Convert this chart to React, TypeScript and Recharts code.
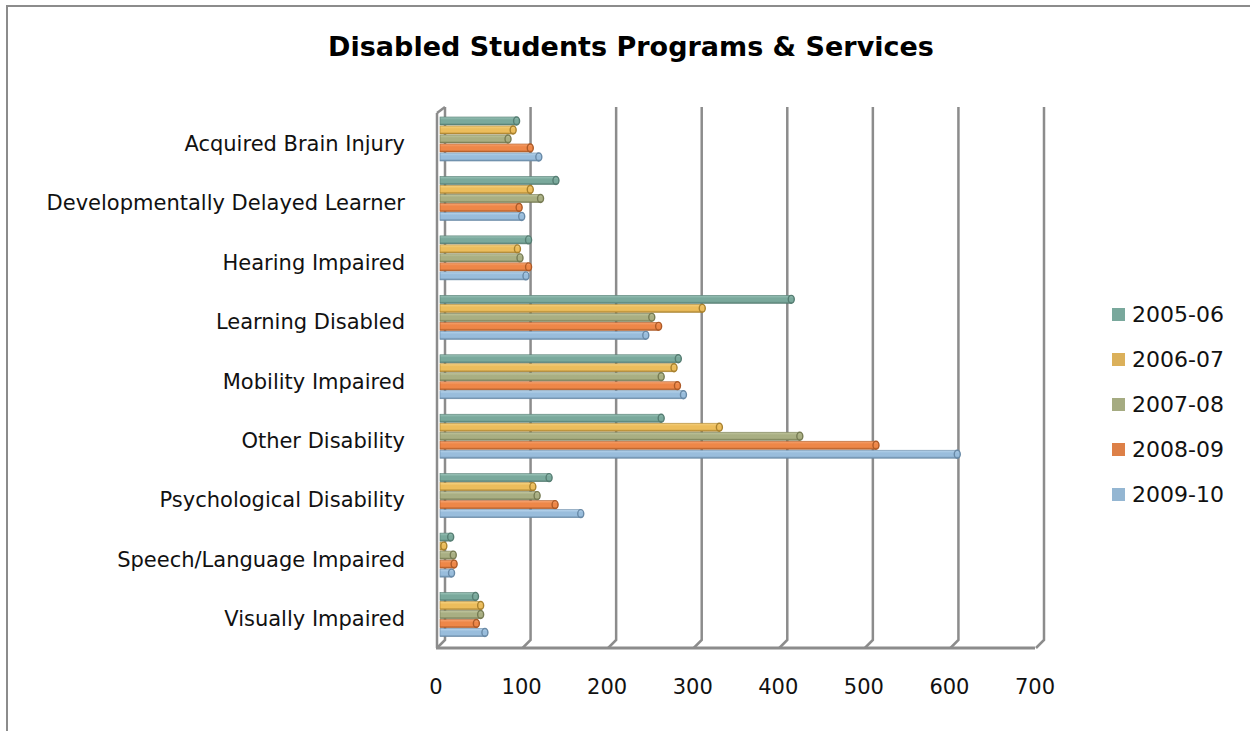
import React from 'react';
import { BarChart, Bar, XAxis, YAxis, CartesianGrid } from 'recharts';

const CATEGORIES = [
  'Acquired Brain Injury',
  'Developmentally Delayed Learner',
  'Hearing Impaired',
  'Learning Disabled',
  'Mobility Impaired',
  'Other Disability',
  'Psychological Disability',
  'Speech/Language Impaired',
  'Visually Impaired',
];

const Y2005_06 = [93, 139, 107, 414, 282, 262, 131, 16, 45];
const Y2006_07 = [89, 109, 94, 310, 277, 330, 112, 8, 51];
const Y2007_08 = [83, 121, 97, 251, 262, 424, 117, 19, 51];
const Y2008_09 = [109, 96, 107, 259, 281, 513, 138, 20, 46];
const Y2009_10 = [119, 99, 104, 244, 288, 608, 168, 17, 56];

const SERIES_NAMES = ['2005-06', '2006-07', '2007-08', '2008-09', '2009-10'];
const SERIES_VALUES = [Y2005_06, Y2006_07, Y2007_08, Y2008_09, Y2009_10];

const X_TICKS = [0, 100, 200, 300, 400, 500, 600, 700];

const BASE = ['#7aa99c', '#ecbd5c', '#a9af83', '#ee8748', '#99bddc'];
const LIGHT = ['#9cc4b9', '#f5d283', '#c2c7a1', '#f6a471', '#b9d5ec'];
const DARK = ['#557d72', '#a8812e', '#767b53', '#ad5a27', '#6889a6'];
const LEGEND = ['#79a89c', '#dbb05a', '#a5ab81', '#dd8047', '#94b6d2'];

const FONT = "'DejaVu Sans', sans-serif";
const GRID = '#8c8c8c';

const data = CATEGORIES.map((name, i) => {
  const row: { [key: string]: any } = { name };
  SERIES_NAMES.forEach((s, k) => {
    row[s] = SERIES_VALUES[k][i];
  });
  return row;
});

const makeShape = (k: number) => (props: any) => {
  const { x, y, width, height } = props;
  if (!width || width <= 0) return <g />;
  const cap = Math.min(3, width / 2);
  return (
    <g>
      <rect
        x={x}
        y={y}
        width={width - cap}
        height={height}
        fill={`url(#bar${k})`}
        stroke={DARK[k]}
        strokeWidth={0.6}
      />
      <ellipse
        cx={x + width - cap}
        cy={y + height / 2}
        rx={cap}
        ry={height / 2}
        fill={`url(#bar${k})`}
        stroke={DARK[k]}
        strokeWidth={1.4}
      />
    </g>
  );
};

// back-plane grid line with a short diagonal down to the floor
const gridLine = (props: any) => {
  const { x1, y1, y2, index } = props;
  const bx = x1 + 5;
  const top = y1 - 3;
  const bottom = y2 - 5;
  return (
    <g key={`g-${index}`}>
      <path
        d={`M${bx},${top} L${bx},${bottom} L${x1 - 3},${y2 + 3}`}
        fill="none"
        stroke={GRID}
        strokeWidth={2.5}
      />
      {index === 0 && (
        <path d={`M${x1 - 3},${y1 + 3} L${bx},${top}`} fill="none" stroke={GRID} strokeWidth={2.5} />
      )}
    </g>
  );
};

const CategoryTick = (props: any) => {
  const { x, y, payload } = props;
  return (
    <text x={x} y={y + 5} textAnchor="end" dominantBaseline="middle" fontFamily={FONT} fontSize={21} fill="#111">
      {payload.value}
    </text>
  );
};

export default function App() {
  return (
    <div style={{ position: 'fixed', left: 0, top: 0, width: 1250, height: 731, overflow: 'hidden', background: '#fff' }}>
      <div
        style={{
          position: 'absolute',
          left: 6,
          top: 5,
          width: 1300,
          height: 800,
          border: `2px solid ${GRID}`,
          boxSizing: 'border-box',
        }}
      />
      <div
        style={{
          position: 'absolute',
          left: 0,
          top: 31,
          width: 1262,
          textAlign: 'center',
          fontFamily: FONT,
          fontWeight: 700,
          fontSize: 27,
          color: '#000',
        }}
      >
        Disabled Students Programs &amp; Services
      </div>
      <div style={{ position: 'absolute', left: 0, top: 0 }}>
        <BarChart
          width={1250}
          height={731}
          data={data}
          layout="vertical"
          margin={{ top: 110, right: 211, left: 0, bottom: 36 }}
          barCategoryGap={7}
          barGap={1}
        >
          <defs>
            {BASE.map((c, k) => (
              <linearGradient key={k} id={`bar${k}`} x1="0" y1="0" x2="0" y2="1">
                <stop offset="0%" stopColor={LIGHT[k]} />
                <stop offset="35%" stopColor={c} />
                <stop offset="75%" stopColor={c} />
                <stop offset="100%" stopColor={DARK[k]} />
              </linearGradient>
            ))}
          </defs>
          <CartesianGrid horizontal={false} vertical={gridLine} />
          <XAxis
            type="number"
            domain={[0, 700]}
            ticks={X_TICKS}
            interval={0}
            height={50}
            tickLine={false}
            tickSize={0}
            tickMargin={34}
            axisLine={{ stroke: GRID, strokeWidth: 3, transform: 'translate(-4,3)' }}
            tick={{ fontFamily: FONT, fontSize: 21, fill: '#111', dx: -4 }}
          />
          <YAxis
            type="category"
            dataKey="name"
            width={440}
            tickLine={false}
            tickSize={0}
            tickMargin={35}
            axisLine={{ stroke: GRID, strokeWidth: 2.5, transform: 'translate(-3,3)' }}
            tick={<CategoryTick />}
            interval={0}
          />
          {SERIES_NAMES.map((s, k) => (
            <Bar key={s} dataKey={s} fill={BASE[k]} shape={makeShape(k)} isAnimationActive={false} />
          ))}
        </BarChart>
      </div>
      <div style={{ position: 'absolute', left: 1112, top: 292, fontFamily: FONT, fontSize: 22, color: '#111' }}>
        {SERIES_NAMES.map((s, k) => (
          <div key={s} style={{ display: 'flex', alignItems: 'center', height: 45 }}>
            <span style={{ width: 13, height: 13, background: LEGEND[k], display: 'inline-block', marginRight: 7, flex: 'none' }} />
            <span style={{ lineHeight: '24px' }}>{s}</span>
          </div>
        ))}
      </div>
    </div>
  );
}
